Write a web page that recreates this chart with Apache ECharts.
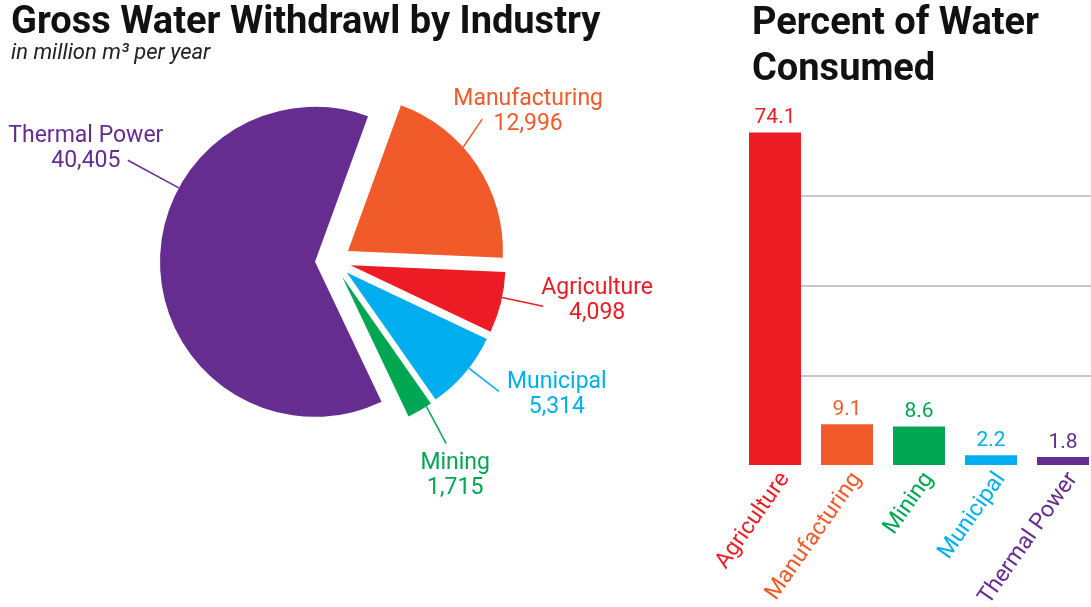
<!DOCTYPE html>
<html><head><meta charset="utf-8">
<script src="https://cdn.jsdelivr.net/npm/echarts@6/dist/echarts.min.js"></script>
<style>html,body{margin:0;padding:0;background:#fff}#c{width:1091px;height:607px}</style>
</head><body><div id="c"></div>
<script>
// ---- data ----
const pieNames = ['Manufacturing', 'Agriculture', 'Municipal', 'Mining', 'Thermal Power'];
const pieValues = [12996, 4098, 5314, 1715, 40405];
const barNames = ['Agriculture', 'Manufacturing', 'Mining', 'Municipal', 'Thermal Power'];
const barValues = [74.1, 9.1, 8.6, 2.2, 1.8];
const yTicks = [0, 20, 40, 60, 80];

// ---- style ----
const COLORS = {
  'Manufacturing': '#f15a29',
  'Agriculture': '#ed1c24',
  'Municipal': '#00aeef',
  'Mining': '#00a651',
  'Thermal Power': '#662d91'
};
const FONT = 'Roboto, "Noto Sans", sans-serif';
const CX = 333, CY = 261, R = 155, OFF = 18, START = 70;
const A0 = 90 - START; // clockwise from 12 o'clock
// per-slice label geometry (style): start angle on arc, line direction (null = radial), length, label shift
const LBL = [
  {start: 48, dir: 34, len: 34, shift: [46, -7]},
  {start: 102, dir: null, len: 42, shift: [54, -6]},
  {start: 128, dir: null, len: 38, shift: [58, 3]},
  {start: 147, dir: 152, len: 42, shift: [9, 32]},
  {start: 298.5, dir: null, len: 58, shift: [-42, -11]}
];

const total = pieValues.reduce((a, b) => a + b, 0);
function midAngle(i) {
  let acc = 0;
  for (let k = 0; k < i; k++) acc += pieValues[k];
  return A0 + (acc + pieValues[i] / 2) / total * 360;
}
function vec(deg) { const r = deg * Math.PI / 180; return [Math.sin(r), -Math.cos(r)]; }
function apex(i) { const u = vec(midAngle(i)); return [CX + u[0] * OFF, CY + u[1] * OFF]; }

function labelLayout(p) {
  const i = p.dataIndex;
  const g = LBL[i];
  const a = apex(i);
  const s = vec(g.start);
  const d = vec(g.dir == null ? g.start : g.dir);
  const sx = a[0] + s[0] * R, sy = a[1] + s[1] * R;
  const ex = sx + d[0] * g.len, ey = sy + d[1] * g.len;
  return {
    x: ex + g.shift[0], y: ey + g.shift[1],
    align: 'center', verticalAlign: 'middle',
    labelLinePoints: [[sx, sy], [ex, ey], [ex, ey]]
  };
}

// one pie series per exploded slice: same data (same angles), only slice k visible, centre pushed out along its mid-angle
const pieSeries = pieNames.map((name, k) => ({
  type: 'pie',
  center: apex(k),
  radius: [0, R],
  startAngle: START,
  clockwise: true,
  avoidLabelOverlap: false,
  silent: true,
  emphasis: {disabled: true},
  itemStyle: {borderWidth: 0},
  z: k === 4 ? 2 : 3,
  data: pieNames.map((n, j) => ({
    name: n, value: pieValues[j],
    itemStyle: {color: j === k ? COLORS[n] : 'rgba(0,0,0,0)', borderWidth: 0},
    label: {show: j === k, color: COLORS[n]},
    labelLine: {show: j === k, lineStyle: {color: COLORS[n]}}
  })),
  label: {
    position: 'outside', fontSize: 23, fontFamily: FONT, lineHeight: 25,
    formatter: (p) => p.name + '\n' + p.value.toLocaleString('en-US')
  },
  labelLine: {length: 30, length2: 0, lineStyle: {width: 1.5}},
  labelLayout: labelLayout
}));

const chart = echarts.init(document.getElementById('c'), null, {renderer: 'canvas'});

chart.setOption({
  backgroundColor: '#ffffff',
  animation: false,
  title: [
    {
      text: 'Gross Water Withdrawl by Industry',
      subtext: 'in million m³ per year',
      left: 6, top: -4, itemGap: -3,
      textStyle: {fontFamily: FONT, fontWeight: 'bold', fontSize: 38, color: '#111', lineHeight: 44},
      subtextStyle: {fontFamily: FONT, fontStyle: 'italic', fontSize: 22, color: '#222'}
    },
    {
      text: 'Percent of Water\nConsumed',
      left: 747, top: -4,
      textStyle: {fontFamily: FONT, fontWeight: 'bold', fontSize: 38, color: '#111', lineHeight: 46}
    }
  ],
  grid: {left: 749, right: -18, top: 106, bottom: 142, containLabel: false, outerBoundsMode: 'none'},
  xAxis: {
    type: 'category',
    data: barNames,
    axisLine: {show: false},
    axisTick: {show: false},
    axisLabel: {
      rotate: 55, margin: 10, fontSize: 23, fontFamily: FONT, interval: 0,
      color: (v) => COLORS[v]
    }
  },
  yAxis: {
    type: 'value', min: yTicks[0], max: yTicks[yTicks.length - 1], interval: yTicks[1] - yTicks[0],
    axisLine: {show: false}, axisTick: {show: false}, axisLabel: {show: false},
    splitLine: {show: true, showMinLine: false, showMaxLine: false, lineStyle: {color: '#b5b5b5', width: 1.5}}
  },
  series: [
    {
      type: 'bar',
      barWidth: 52,
      barGap: '0%',
      silent: true,
      data: barValues.map((v, i) => ({
        value: v,
        itemStyle: {color: COLORS[barNames[i]]},
        label: {color: COLORS[barNames[i]]}
      })),
      label: {show: true, position: 'top', distance: 4, fontSize: 21, fontFamily: FONT}
    },
    {
      // empty spacer series: puts each bar at the left of its band
      type: 'bar', barWidth: 20, barGap: '0%', silent: true,
      data: barValues.map(() => null)
    }
  ].concat(pieSeries)
});
</script>
</body></html>
